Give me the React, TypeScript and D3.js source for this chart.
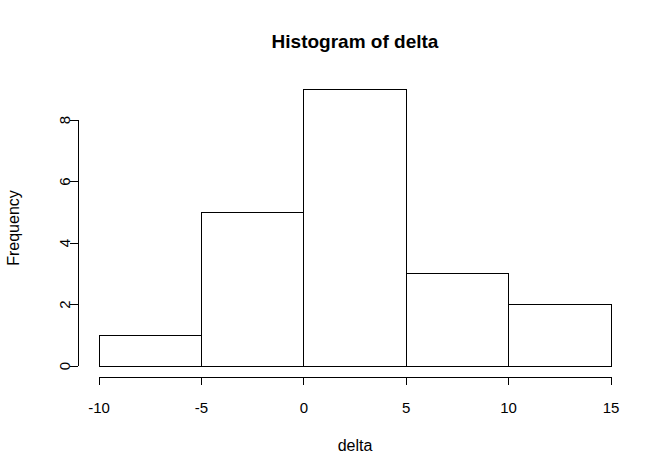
import React from "react";
import * as d3 from "d3";

const binStarts = [-10, -5, 0, 5, 10];
const binWidth = 5;
const counts = [1, 5, 9, 3, 2];
const xTicks = [-10, -5, 0, 5, 10, 15];
const yTicks = [0, 2, 4, 6, 8];
const title = "Histogram of delta";
const xLabel = "delta";
const yLabel = "Frequency";

export default function App() {
  const W = 672, H = 475;
  const x = d3.scaleLinear().domain([-10, 15]).range([99, 611]);
  const y = d3.scaleLinear().domain([0, 8]).range([366, 120]);
  const font = "Liberation Sans, Arial, sans-serif";
  const axisY = 377;
  const axisX = 78;
  return (
    <svg width={W} height={H} style={{ position: "absolute", left: 0, top: 0, background: "#fff" }} fontFamily={font}>
      <rect x={0} y={0} width={W} height={H} fill="#fff" />
      <text x={355} y={48} textAnchor="middle" fontWeight="bold" fontSize={19}>{title}</text>
      {binStarts.map((b, i) => (
        <rect key={i} x={x(b)} y={y(counts[i])} width={x(b + binWidth) - x(b)} height={y(0) - y(counts[i])}
          fill="none" stroke="#000" strokeWidth={1} shapeRendering="crispEdges" />
      ))}
      <line x1={x(xTicks[0])} x2={x(xTicks[xTicks.length - 1])} y1={axisY} y2={axisY} stroke="#000" shapeRendering="crispEdges" />
      {xTicks.map((t) => (
        <g key={t}>
          <line x1={x(t)} x2={x(t)} y1={axisY} y2={axisY + 8} stroke="#000" shapeRendering="crispEdges" />
          <text x={x(t)} y={413} textAnchor="middle" fontSize={15}>{t}</text>
        </g>
      ))}
      <line x1={axisX} x2={axisX} y1={y(yTicks[0])} y2={y(yTicks[yTicks.length - 1])} stroke="#000" shapeRendering="crispEdges" />
      {yTicks.map((t) => (
        <g key={t}>
          <line x1={axisX - 8} x2={axisX} y1={y(t)} y2={y(t)} stroke="#000" shapeRendering="crispEdges" />
          <text transform={`translate(${70},${y(t)}) rotate(-90)`} textAnchor="middle" fontSize={15}>{t}</text>
        </g>
      ))}
      <text x={355} y={451} textAnchor="middle" fontSize={16}>{xLabel}</text>
      <text transform={`translate(19,${228}) rotate(-90)`} textAnchor="middle" fontSize={16}>{yLabel}</text>
    </svg>
  );
}
